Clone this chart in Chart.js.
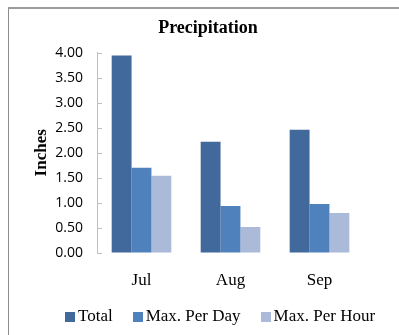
<!DOCTYPE html>
<html>
<head>
<meta charset="utf-8">
<script src="https://cdn.jsdelivr.net/npm/chart.js@4/dist/chart.umd.min.js"></script>
<style>
  html, body { margin: 0; padding: 0; background: #fff; }
  #wrap { position: relative; width: 399px; height: 335px; overflow: hidden; }
  #frame { position: absolute; left: 8px; top: 7px; width: 420px; height: 360px;
           border-left: 1px solid #8c8c8c; border-top: 2px solid #9c9c9c; box-sizing: border-box; }
  canvas { position: absolute; left: 0; top: 0; }
  #legend { position: absolute; left: 65px; top: 306px; height: 20px; display: flex; align-items: center;
            font-family: "Liberation Serif", "Times New Roman", serif; font-size: 17px; color: #000; white-space: nowrap; }
  #legend .item { display: flex; align-items: center; margin-right: 20px; }
  #legend .box { width: 10px; height: 10px; margin-right: 3px; margin-top: 2px; }
</style>
</head>
<body>
<div id="wrap">
  <div id="frame"></div>
  <canvas id="chart" width="399" height="335"></canvas>
  <div id="legend"></div>
</div>
<script>
// Monthly precipitation (inches)
const months = ['Jul', 'Aug', 'Sep'];
const total = [3.94, 2.22, 2.46];
const maxPerDay = [1.70, 0.94, 0.98];
const maxPerHour = [1.54, 0.52, 0.80];
const seriesNames = ['Total', 'Max. Per Day', 'Max. Per Hour'];
const seriesColors = ['#41699c', '#4f81bd', '#aabad8'];
const yTicks = [0, 0.5, 1, 1.5, 2, 2.5, 3, 3.5, 4];

const serif = '"Liberation Serif", "Times New Roman", serif';

// short tick marks on the inner side of the value axis
const innerTicks = {
  id: 'innerTicks',
  afterDatasetsDraw(chart) {
    const y = chart.scales.y;
    const ctx = chart.ctx;
    ctx.save();
    ctx.strokeStyle = '#bfbfbf';
    ctx.lineWidth = 1;
    y.ticks.forEach(t => {
      const py = Math.round(y.getPixelForValue(t.value)) + 0.5;
      ctx.beginPath();
      ctx.moveTo(y.right, py);
      ctx.lineTo(y.right + 5, py);
      ctx.stroke();
    });
    ctx.restore();
  }
};

const series = [total, maxPerDay, maxPerHour];

const chart = new Chart(document.getElementById('chart'), {
  type: 'bar',
  data: {
    labels: months,
    datasets: series.map((d, i) => ({
      label: seriesNames[i],
      data: d,
      backgroundColor: seriesColors[i],
      borderWidth: 0,
      categoryPercentage: 0.67,
      barPercentage: 1.0
    }))
  },
  options: {
    responsive: false,
    animation: false,
    devicePixelRatio: 1,
    layout: { padding: { left: 17, right: 0, top: 8, bottom: 44 } },
    plugins: {
      legend: { display: false },
      tooltip: { enabled: false },
      title: {
        display: true,
        text: 'Precipitation',
        color: '#000',
        font: { family: serif, size: 18, weight: 'bold', lineHeight: 1.2 },
        padding: { top: 10, bottom: 13 }
      }
    },
    scales: {
      x: {
        grid: { display: false, drawTicks: false },
        border: { display: false },
        afterFit(scale) { scale.height = 38; },
        ticks: { color: '#000', padding: 17, maxRotation: 0, font: { family: serif, size: 17 } }
      },
      y: {
        position: 'left',
        min: 0,
        max: 4,
        afterBuildTicks(scale) { scale.ticks = yTicks.map(v => ({ value: v })); },
        afterFit(scale) { scale.width = 80; },
        grid: { drawOnChartArea: false, drawTicks: false },
        border: { display: true, color: '#bfbfbf', width: 1 },
        ticks: {
          color: '#000',
          padding: 14,
          font: { family: '"Open Sans", sans-serif', size: 14 },
          callback: v => Number(v).toFixed(2)
        },
        title: {
          display: true,
          text: 'Inches',
          color: '#000',
          font: { family: serif, size: 17, weight: 'bold', lineHeight: 1.2 },
          padding: { top: 14, bottom: 0 }
        }
      },
      yRight: {
        position: 'right',
        display: true,
        min: 0,
        max: 4,
        grid: { display: false },
        border: { display: false },
        ticks: { display: false },
        afterFit(scale) { scale.width = 35; }
      }
    }
  },
  plugins: [innerTicks]
});

// legend built from the chart's datasets
const legendEl = document.getElementById('legend');
chart.data.datasets.forEach(ds => {
  const item = document.createElement('span');
  item.className = 'item';
  const box = document.createElement('span');
  box.className = 'box';
  box.style.background = ds.backgroundColor;
  const txt = document.createElement('span');
  txt.textContent = ds.label;
  item.appendChild(box);
  item.appendChild(txt);
  legendEl.appendChild(item);
});
</script>
</body>
</html>
